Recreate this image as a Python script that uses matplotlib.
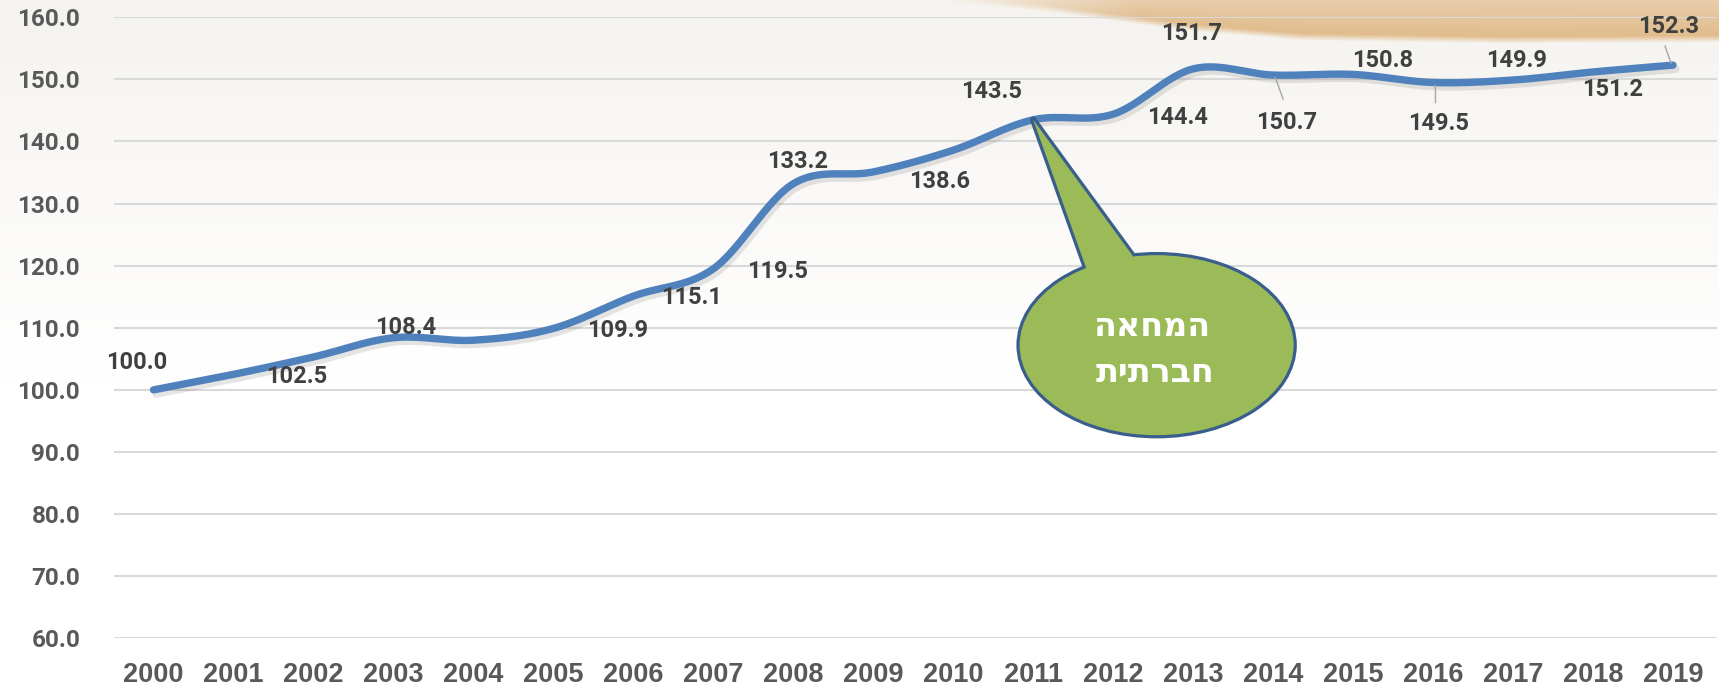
import numpy as np
import matplotlib
matplotlib.use("Agg")
import matplotlib.pyplot as plt
from matplotlib.patches import Ellipse, Polygon
import matplotlib.patheffects as pe

# ---------------- data ----------------
years = list(range(2000, 2020))
values = [100.0, 102.5, 105.3, 108.4, 108.0, 109.9, 115.1, 119.5, 133.2, 135.1,
          138.6, 143.5, 144.4, 151.7, 150.7, 150.8, 149.5, 149.9, 151.2, 152.3]
labeled_years = [2000, 2001, 2003, 2005, 2006, 2007, 2008, 2010, 2011, 2012,
                 2013, 2014, 2015, 2016, 2017, 2018, 2019]
yticks = [60, 70, 80, 90, 100, 110, 120, 130, 140, 150, 160]
callout_lines = ["המחאה", "חברתית"]
callout_year = 2011

# ---------------- styling (pixel offsets of labels from their points) -------
label_offsets = {
    2000: (-17, -27), 2001: (63, 2), 2003: (12, -10), 2005: (64, 2),
    2006: (58, 1), 2007: (64, 3), 2008: (4, -22), 2010: (-14, 31),
    2011: (-42, -28), 2012: (64, 3), 2013: (-2, -35), 2014: (13, 47),
    2015: (30, -14), 2016: (5, 41), 2017: (3, -20), 2018: (20, 18),
    2019: (-4, -39),
}
leader_years = {2014: ((2, 2), (10, 24)), 2016: ((2, 2), (2, 19)),
                2019: ((-2, -2), (-8, -19))}

W, H, DPI = 1719, 687, 100
LINE_COLOR = "#4F81BD"
GRID_COLOR = "#D9D9D9"
TICK_COLOR = "#595959"
LABEL_COLOR = "#404040"
NUM_FONT = "Roboto"

fig = plt.figure(figsize=(W / DPI, H / DPI), dpi=DPI)

# ---------------- background ----------------
yy, xx = np.mgrid[0:H, 0:W].astype(float)
top = np.array([245, 243, 239], float)
bot = np.array([255, 255, 255], float)
t = np.clip(yy / 380.0, 0, 1)[..., None]
bg = top * (1 - t) + bot * t
bx = [930, 1050, 1183, 1300, 1500, 1719]
by = [0, 12, 30, 40, 43, 42]
bnd = np.interp(xx[0], bx, by)[None, :]
mask = np.clip((bnd - yy) / 7.0, 0, 1)
strength = np.clip((xx - 940) / 200.0, 0, 1) * 0.85 + 0.15
mask = (mask * strength)[..., None]
depth = np.clip((bnd - yy) / np.maximum(bnd, 1), 0, 1)[..., None]
tan_edge = np.array([224, 186, 136], float)
tan_top = np.array([232, 206, 172], float)
tan = tan_edge * (1 - depth) + tan_top * depth
bg = bg * (1 - mask) + tan * mask
bgax = fig.add_axes([0, 0, 1, 1], zorder=-10)
bgax.imshow(bg.astype(np.uint8), aspect="auto", extent=(0, 1, 0, 1))
bgax.axis("off")

# ---------------- main axes ----------------
ax = fig.add_axes([113.5 / W, (H - 638.3) / H, (1717 - 113.5) / W, (638.3 - 17.3) / H])
ax.set_facecolor("none")
n = len(years)
x = np.arange(n)
ax.set_xlim(-0.5, 19.55)
ax.set_ylim(60, 160)
ax.set_yticks(yticks)
ax.set_yticklabels([f"{v:.1f}" for v in yticks])
ax.set_xticks(x)
ax.set_xticklabels([str(y) for y in years])
for s in ax.spines.values():
    s.set_visible(False)
ax.grid(axis="y", color=GRID_COLOR, linewidth=1.5)
ax.set_axisbelow(True)
ax.tick_params(axis="both", length=0)
ax.tick_params(axis="y", pad=24, labelcolor=TICK_COLOR)
ax.tick_params(axis="x", pad=17, labelcolor=TICK_COLOR)
for lab in ax.get_yticklabels():
    lab.set_fontfamily(NUM_FONT)
    lab.set_fontweight("bold")
    lab.set_fontsize(17.5)
for lab in ax.get_xticklabels():
    lab.set_fontfamily("Liberation Sans")
    lab.set_fontweight("bold")
    lab.set_fontsize(19.5)

# smoothed line (Catmull-Rom, like Excel smoothed line)
pts = np.column_stack([x, values]).astype(float)
ext = np.vstack([pts[0], pts, pts[-1]])
sx, sy = [], []
for i in range(1, len(ext) - 2):
    p0, p1, p2, p3 = ext[i - 1], ext[i], ext[i + 1], ext[i + 2]
    c1 = p1 + (p2 - p0) / 6.0
    c2 = p2 - (p3 - p1) / 6.0
    tt = np.linspace(0, 1, 30)[:, None]
    seg = ((1 - tt) ** 3) * p1 + 3 * ((1 - tt) ** 2) * tt * c1 + 3 * (1 - tt) * tt ** 2 * c2 + tt ** 3 * p2
    sx.extend(seg[:, 0])
    sy.extend(seg[:, 1])
ax.plot(sx, sy, color=LINE_COLOR, linewidth=5.3, solid_capstyle="round",
        solid_joinstyle="round", zorder=3, clip_on=False,
        path_effects=[pe.SimpleLineShadow(offset=(2, -3), alpha=0.15, shadow_color="#555555"),
                      pe.Normal()])

# data labels
for yr in labeled_years:
    i = years.index(yr)
    dx, dy = label_offsets[yr]
    ax.annotate(f"{values[i]:.1f}", xy=(i, values[i]), xytext=(dx, -dy),
                textcoords="offset pixels", ha="center", va="center",
                fontsize=17, fontweight="bold", fontfamily=NUM_FONT,
                color=LABEL_COLOR, zorder=5, annotation_clip=False)

# leader lines
inv = ax.transData.inverted()
for yr, (a, b) in leader_years.items():
    i = years.index(yr)
    p = ax.transData.transform((i, values[i]))
    q1 = inv.transform(p + np.array([a[0], -a[1]]))
    q2 = inv.transform(p + np.array([b[0], -b[1]]))
    ax.plot([q1[0], q2[0]], [q1[1], q2[1]], color="#A6A6A6", linewidth=1.0, zorder=4,
            clip_on=False)

# ---------------- callout ----------------
ci = years.index(callout_year)
tip = np.array([ci, values[ci]], float)
tip_px = ax.transData.transform(tip)


def px(dx, dy):
    return inv.transform(tip_px + np.array([dx, -dy]))


center = px(123.4, 225.4)
unit = inv.transform(tip_px + np.array([274, 180])) - tip
ew, eh = unit[0], unit[1]
b1 = px(53, 148.4)
b2 = px(99, 135.4)
tail_pts = [tip, b1, center, b2]
FILL = "#9BBB59"
EDGE = "#3A5E8C"
ax.add_patch(Ellipse(center, ew, eh, facecolor=FILL, edgecolor=EDGE, linewidth=4.6,
                     zorder=6, clip_on=False))
ax.add_patch(Polygon(tail_pts, closed=True, facecolor=FILL, edgecolor=EDGE, linewidth=4.6,
                     joinstyle="round", zorder=6, clip_on=False))
ax.add_patch(Ellipse(center, ew, eh, facecolor=FILL, edgecolor="none", zorder=7, clip_on=False))
ax.add_patch(Polygon(tail_pts, closed=True, facecolor=FILL, edgecolor="none", zorder=7,
                     clip_on=False))
for line, off in zip(callout_lines, [(-4, -19), (-2, 27)]):
    ax.annotate(line[::-1], xy=(tip[0], tip[1]),
                xytext=(123.4 + off[0], -(225.4 + off[1])), textcoords="offset pixels",
                ha="center", va="center", fontsize=24, fontweight="bold",
                fontfamily=["DejaVu Sans"], color="white", zorder=8,
                annotation_clip=False)

fig.savefig("out.png", dpi=DPI)
